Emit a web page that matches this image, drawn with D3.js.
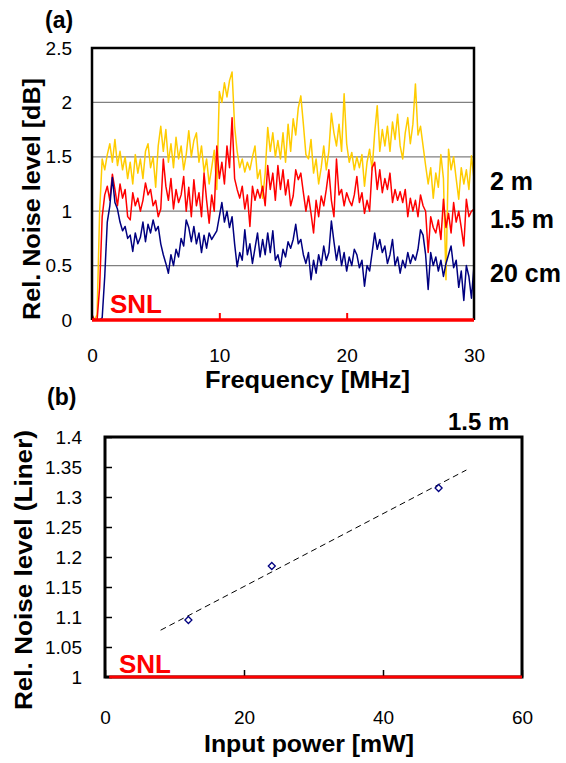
<!DOCTYPE html>
<html>
<head>
<meta charset="utf-8">
<script src="https://cdnjs.cloudflare.com/ajax/libs/d3/7.8.5/d3.min.js"></script>
<style>
body { margin: 0; background: #fff; }
text { font-family: "Liberation Sans", Arial, sans-serif; }
</style>
</head>
<body>
<div id="chart"></div>
<script>
// (a) noise spectra, sampled every 0.2 MHz
var freq = [
  0, 0.2, 0.4, 0.6, 0.8, 1, 1.2, 1.4, 1.6, 1.8,
  2, 2.2, 2.4, 2.6, 2.8, 3, 3.2, 3.4, 3.6, 3.8,
  4, 4.2, 4.4, 4.6, 4.8, 5, 5.2, 5.4, 5.6, 5.8,
  6, 6.2, 6.4, 6.6, 6.8, 7, 7.2, 7.4, 7.6, 7.8,
  8, 8.2, 8.4, 8.6, 8.8, 9, 9.2, 9.4, 9.6, 9.8,
  10, 10.2, 10.4, 10.6, 10.8, 11, 11.2, 11.4, 11.6, 11.8,
  12, 12.2, 12.4, 12.6, 12.8, 13, 13.2, 13.4, 13.6, 13.8,
  14, 14.2, 14.4, 14.6, 14.8, 15, 15.2, 15.4, 15.6, 15.8,
  16, 16.2, 16.4, 16.6, 16.8, 17, 17.2, 17.4, 17.6, 17.8,
  18, 18.2, 18.4, 18.6, 18.8, 19, 19.2, 19.4, 19.6, 19.8,
  20, 20.2, 20.4, 20.6, 20.8, 21, 21.2, 21.4, 21.6, 21.8,
  22, 22.2, 22.4, 22.6, 22.8, 23, 23.2, 23.4, 23.6, 23.8,
  24, 24.2, 24.4, 24.6, 24.8, 25, 25.2, 25.4, 25.6, 25.8,
  26, 26.2, 26.4, 26.6, 26.8, 27, 27.2, 27.4, 27.6, 27.8,
  28, 28.2, 28.4, 28.6, 28.8, 29, 29.2, 29.4, 29.6, 29.8,
  30
]
var noise2m = [
  0, 0, 0.05, 1.0, 1.48, 1.38, 1.52, 1.62, 1.45, 1.66,
  1.42, 1.55, 1.38, 1.5, 1.3, 1.45, 1.25, 1.52, 1.35, 1.48,
  1.3, 1.55, 1.62, 1.4, 1.5, 1.22, 1.6, 1.78, 1.55, 1.75,
  1.45, 1.62, 1.4, 1.68, 1.48, 1.6, 1.38, 1.52, 1.74, 1.5,
  1.65, 1.72, 1.45, 1.6, 1.36, 1.48, 1.25, 1.4, 1.56, 1.2,
  2.1, 2.0, 2.18, 2.05, 2.2, 2.28, 1.78, 1.55, 1.4, 1.48,
  1.36, 1.45, 1.38, 1.5, 1.6, 1.3, 1.38, 1.12, 1.35, 1.77,
  1.55, 1.72, 1.5, 1.65, 1.48, 1.72, 1.45, 1.8, 1.55, 1.85,
  1.7, 1.95, 2.06, 1.8, 1.52, 1.48, 1.66, 1.35, 1.48, 1.25,
  1.4, 1.6, 1.38, 1.55, 1.9, 1.72, 1.6, 1.8, 1.55, 2.08,
  1.62, 1.45, 1.54, 1.38, 1.5, 1.4, 1.52, 1.23, 1.45, 1.57,
  1.38, 1.72, 1.97, 1.55, 1.75, 1.6, 1.78, 1.55, 1.82, 1.66,
  1.89, 1.6, 1.48, 1.72, 1.86, 1.62, 1.8, 2.17, 1.7, 1.78,
  1.6, 1.42, 1.25, 1.4, 1.12, 1.35, 1.22, 1.52, 1.3, 0.37,
  1.57, 1.38, 1.5, 1.3, 1.11, 1.4, 1.25, 1.38, 1.2, 1.51,
  1.3
]
var noise15m = [
  0.05, 0, 0, 0.3, 0.95, 1.15, 1.23, 1.1, 1.34, 1.2,
  1.05, 1.25, 1.12, 1.2, 0.95, 0.92, 1.17, 1.05, 1.12, 1.0,
  1.1, 1.26, 1.15, 1.2, 1.05, 1.1, 0.95, 1.02, 1.48, 1.23,
  1.1, 1.3, 1.02, 1.2, 1.08, 1.15, 1.32, 1.0, 1.22, 0.95,
  1.29, 1.05, 1.17, 0.95, 1.35, 1.1, 0.89, 1.15, 1.0, 1.6,
  1.3, 1.45, 1.25, 1.6, 1.4, 1.86, 1.3, 1.2, 1.12, 1.23,
  1.02, 1.15, 0.86, 1.23, 1.1, 1.2, 1.12, 1.23, 1.05, 1.42,
  1.2, 1.35, 1.1, 1.42, 1.2, 1.38, 1.15, 1.29, 1.05, 1.14,
  1.38, 1.29, 1.35, 1.17, 1.0, 1.14, 0.98, 0.8, 1.1, 0.95,
  1.14, 1.05, 1.2, 1.38, 1.1, 0.95, 1.48, 1.15, 1.2, 1.05,
  1.17, 1.1, 1.05, 1.15, 1.32, 1.08, 1.17, 0.98, 1.1, 1.0,
  1.4, 1.45, 1.2, 1.38, 1.17, 1.3, 1.2, 1.35, 1.08, 1.2,
  1.1, 1.18, 1.08, 1.2, 0.95, 1.12, 1.0, 1.1, 0.95, 1.15,
  1.05, 1.0, 0.62, 0.95, 0.85, 0.8, 0.92, 0.74, 1.11, 0.85,
  0.98, 0.8, 1.08, 0.9, 1.0, 0.85, 0.68, 1.11, 0.95, 1.0,
  1.02
]
var noise20cm = [
  0, 0, 0, 0, 0.02, 0.4, 0.9, 1.05, 1.31, 1.08,
  1.02, 0.9, 0.82, 0.86, 0.75, 0.78, 0.63, 0.8, 0.7, 0.76,
  0.9, 0.72, 0.88, 0.8, 0.92, 0.82, 0.86, 0.7, 0.6, 0.52,
  0.43, 0.6, 0.5, 0.65, 0.58, 0.75, 0.68, 0.92, 0.85, 0.72,
  0.86, 0.7, 0.8, 0.62, 0.78, 0.66, 0.8, 0.74, 0.78, 0.82,
  0.95, 1.08, 0.9, 1.0, 0.85, 0.95, 0.7, 0.49, 0.62, 0.55,
  0.83, 0.6, 0.7, 0.52, 0.66, 0.8, 0.58, 0.74, 0.6, 0.8,
  0.62, 0.82, 0.55, 0.6, 0.49, 0.65, 0.58, 0.72, 0.66, 0.74,
  0.88, 0.7, 0.74, 0.6, 0.52, 0.62, 0.37, 0.55, 0.43, 0.6,
  0.5, 0.68, 0.55, 0.62, 0.91, 0.72, 0.55, 0.68, 0.5, 0.62,
  0.45, 0.58, 0.5, 0.65, 0.6, 0.48, 0.55, 0.31, 0.5, 0.45,
  0.62, 0.8, 0.65, 0.74, 0.62, 0.68, 0.52, 0.6, 0.74, 0.5,
  0.58, 0.43, 0.55, 0.48, 0.62, 0.52, 0.6, 0.55, 0.65, 0.83,
  0.78, 0.6, 0.28, 0.62, 0.5, 0.58, 0.45, 0.55, 0.4, 0.52,
  0.6, 0.68, 0.48, 0.55, 0.3, 0.45, 0.18, 0.5, 0.4, 0.2,
  0.5
]
var seriesNames = ["2 m", "1.5 m", "20 cm"]
var seriesColors = ["#FFCC00", "#FF0000", "#000080"]
var freqTicks = [0, 10, 20, 30]
var dbTicks = [0, 0.5, 1, 1.5, 2, 2.5]

// (b) noise vs input power at 1.5 m
var power = [12, 24, 48]
var noiseLin = [1.095, 1.185, 1.315]
var trendPower = [8, 52]
var trendNoise = [1.078, 1.345]
var powerTicks = [0, 20, 40, 60]
var linTicks = [1, 1.05, 1.1, 1.15, 1.2, 1.25, 1.3, 1.35, 1.4]

var plain = function(d) {return String(d)}

var svg = d3.select('#chart')
    .append('svg')
    .attr('width', 566)
    .attr('height', 763)

// ---------- panel (a)
var xa = d3.scaleLinear().domain([0, 30]).range([92, 474]),
    ya = d3.scaleLinear().domain([0, 2.5]).range([320, 48])

var ga = svg.append('g')

ga.selectAll('.grid')
  .data(dbTicks.filter(function(d) {return d > 0 && d < 2.5}))
  .enter().append('line')
    .attr('class', 'grid')
    .attr('x1', xa(0)).attr('x2', xa(30))
    .attr('y1', function(d) {return ya(d)}).attr('y2', function(d) {return ya(d)})
    .attr('stroke', '#808080').attr('stroke-width', 1.2)

var lineA = d3.line()
    .x(function(d) {return xa(d[0])})
    .y(function(d) {return ya(d[1])})

var spectra = [noise2m, noise15m, noise20cm].map(function(vals, i) {
  return {name: seriesNames[i], color: seriesColors[i],
          values: freq.map(function(f, j) {return [f, vals[j]]})}
})

ga.selectAll('.spec')
  .data(spectra)
  .enter().append('path')
    .attr('class', 'spec')
    .attr('d', function(d) {return lineA(d.values)})
    .attr('fill', 'none')
    .attr('stroke', function(d) {return d.color})
    .attr('stroke-width', 1.5)
    .attr('stroke-linejoin', 'round')

// frame
ga.append('path')
    .attr('d', 'M' + xa(0) + ',' + ya(0) + 'V' + ya(2.5) + 'H' + xa(30) + 'V' + ya(0))
    .attr('fill', 'none').attr('stroke', '#000').attr('stroke-width', 2.5)

// SNL
ga.append('line')
    .attr('x1', xa(0)).attr('x2', xa(30))
    .attr('y1', ya(0)).attr('y2', ya(0))
    .attr('stroke', '#FF0000').attr('stroke-width', 3.5)

ga.append('g')
    .attr('transform', 'translate(0,' + ya(0) + ')')
    .call(d3.axisBottom(xa).tickValues(freqTicks).tickFormat(plain).tickSize(0).tickPadding(29))
    .call(function(g) {
      g.select('.domain').remove()
      g.selectAll('text').attr('font-size', 19).attr('fill', '#000')
        .style('font-family', '"Liberation Sans", Arial, sans-serif')
      g.selectAll('.tick').filter(function(d) {return d > 0 && d < 30})
        .append('line').attr('y2', -7).attr('stroke', '#FF0000').attr('stroke-width', 2)
    })

ga.append('g')
    .attr('transform', 'translate(' + xa(0) + ',0)')
    .call(d3.axisLeft(ya).tickValues(dbTicks).tickFormat(plain).tickSize(0).tickPadding(20))
    .call(function(g) {
      g.select('.domain').remove()
      g.selectAll('text').attr('font-size', 19).attr('fill', '#000')
        .style('font-family', '"Liberation Sans", Arial, sans-serif')
    })

var labelA = [1.195, 0.846, 0.35]
ga.selectAll('.slabel')
  .data(seriesNames)
  .enter().append('text')
    .attr('class', 'slabel')
    .attr('x', 490)
    .attr('y', function(d, i) {return ya(labelA[i])})
    .attr('font-size', 25).attr('font-weight', 'bold')
    .text(function(d) {return d})

ga.append('text')
    .attr('x', 110).attr('y', 313)
    .attr('font-size', 26).attr('font-weight', 'bold').attr('fill', '#FF0000')
    .text('SNL')

ga.append('text')
    .attr('x', 45).attr('y', 28)
    .attr('font-size', 23).attr('font-weight', 'bold')
    .text('(a)')

ga.append('text')
    .attr('transform', 'translate(40,199) rotate(-90)')
    .attr('text-anchor', 'middle')
    .attr('font-size', 23).attr('font-weight', 'bold')
    .attr('textLength', 242).attr('lengthAdjust', 'spacingAndGlyphs')
    .text('Rel. Noise level [dB]')

ga.append('text')
    .attr('x', 205).attr('y', 388)
    .attr('font-size', 23).attr('font-weight', 'bold')
    .attr('textLength', 205).attr('lengthAdjust', 'spacingAndGlyphs')
    .text('Frequency [MHz]')

// ---------- panel (b)
var xb = d3.scaleLinear().domain([0, 60]).range([105, 522]),
    yb = d3.scaleLinear().domain([1, 1.4]).range([677, 437])

var gb = svg.append('g')

gb.append('g')
    .attr('transform', 'translate(0,' + yb(1) + ')')
    .call(d3.axisBottom(xb).tickValues(powerTicks).tickFormat(plain).tickSizeInner(-7).tickSizeOuter(0).tickPadding(34))
    .call(function(g) {
      g.select('.domain').remove()
      g.selectAll('.tick line').attr('stroke', '#000').attr('stroke-width', 1.5)
      g.selectAll('text').attr('font-size', 19).attr('fill', '#000')
        .style('font-family', '"Liberation Sans", Arial, sans-serif')
    })

gb.append('g')
    .attr('transform', 'translate(' + xb(0) + ',0)')
    .call(d3.axisLeft(yb).tickValues(linTicks).tickFormat(plain).tickSizeInner(-7).tickSizeOuter(0).tickPadding(23))
    .call(function(g) {
      g.select('.domain').remove()
      g.selectAll('.tick line').attr('stroke', '#000').attr('stroke-width', 1.5)
      g.selectAll('text').attr('font-size', 19).attr('fill', '#000')
        .style('font-family', '"Liberation Sans", Arial, sans-serif')
    })

gb.append('rect')
    .attr('x', xb(0)).attr('y', yb(1.4))
    .attr('width', xb(60) - xb(0)).attr('height', yb(1) - yb(1.4))
    .attr('fill', 'none').attr('stroke', '#000').attr('stroke-width', 3)

gb.append('line')
    .attr('x1', xb(0.6)).attr('x2', xb(60))
    .attr('y1', yb(1)).attr('y2', yb(1))
    .attr('stroke', '#FF0000').attr('stroke-width', 3)

gb.append('path')
    .attr('d', d3.line()
      .x(function(d) {return xb(d[0])})
      .y(function(d) {return yb(d[1])})(trendPower.map(function(p, i) {return [p, trendNoise[i]]})))
    .attr('fill', 'none').attr('stroke', '#000').attr('stroke-width', 1)
    .attr('stroke-dasharray', '6,4')

gb.selectAll('.pt')
  .data(power.map(function(p, i) {return [p, noiseLin[i]]}))
  .enter().append('path')
    .attr('class', 'pt')
    .attr('transform', function(d) {return 'translate(' + xb(d[0]) + ',' + yb(d[1]) + ')'})
    .attr('d', 'M0,-3.5L3.5,0L0,3.5L-3.5,0Z')
    .attr('fill', '#fff').attr('stroke', '#000080').attr('stroke-width', 1.3)

gb.append('text')
    .attr('x', 119).attr('y', 673)
    .attr('font-size', 26).attr('font-weight', 'bold').attr('fill', '#FF0000')
    .text('SNL')

gb.append('text')
    .attr('x', 448).attr('y', 430)
    .attr('font-size', 24).attr('font-weight', 'bold')
    .text('1.5 m')

gb.append('text')
    .attr('x', 47).attr('y', 405)
    .attr('font-size', 23).attr('font-weight', 'bold')
    .text('(b)')

gb.append('text')
    .attr('transform', 'translate(32,570) rotate(-90)')
    .attr('text-anchor', 'middle')
    .attr('font-size', 23).attr('font-weight', 'bold')
    .attr('textLength', 280).attr('lengthAdjust', 'spacingAndGlyphs')
    .text('Rel. Noise level (Liner)')

gb.append('text')
    .attr('x', 204).attr('y', 752)
    .attr('font-size', 24).attr('font-weight', 'bold')
    .attr('textLength', 210).attr('lengthAdjust', 'spacingAndGlyphs')
    .text('Input power [mW]')
</script>
</body>
</html>
